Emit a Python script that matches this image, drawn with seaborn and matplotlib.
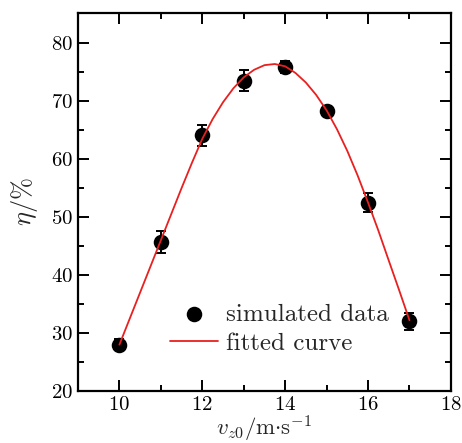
import numpy as np
import pandas as pd
import matplotlib
matplotlib.use("Agg")
import matplotlib.pyplot as plt
import seaborn as sns

# simulated data
vz0 = [10, 11, 12, 13, 14, 15, 16, 17]
eta = [28.0, 45.7, 64.1, 73.5, 75.9, 68.3, 52.5, 32.0]
eta_err = [0.9, 1.9, 1.8, 1.8, 1.0, 0.8, 1.6, 1.5]

# fitted curve
fit_x = [10, 10.25, 10.5, 10.75, 11, 11.25, 11.5, 11.75, 12, 12.25, 12.5, 12.75,
         13, 13.25, 13.5, 13.75, 14, 14.25, 14.5, 14.75, 15, 15.25, 15.5, 15.75,
         16, 16.25, 16.5, 16.75, 17]
fit_y = [28.0, 32.5, 37.0, 41.5, 46.0, 50.5, 55.0, 59.35, 63.5, 66.9, 69.8, 72.2,
         74.1, 75.4, 76.2, 76.4, 76.0, 74.85, 73.2, 71.05, 68.4, 65.15, 61.4, 57.15,
         52.5, 47.65, 42.5, 37.4, 32.2]

xticks = [10, 12, 14, 16, 18]
yticks = [20, 30, 40, 50, 60, 70, 80]

sns.set_theme(style="ticks")
plt.rcParams.update({
    "font.family": "serif",
    "font.serif": ["cmr10"],
    "mathtext.fontset": "cm",
    "axes.formatter.use_mathtext": True,
    "axes.unicode_minus": False,
})

fig = plt.figure(figsize=(4.62, 4.43), dpi=100)
ax = fig.add_axes([0.1688, 0.1174, 0.976 - 0.1688, 0.9707 - 0.1174])

df_pts = pd.DataFrame({"x": vz0, "y": eta})
df_fit = pd.DataFrame({"x": fit_x, "y": fit_y})

ax.errorbar(vz0, eta, yerr=eta_err, fmt="none", ecolor="black",
            elinewidth=1.4, capsize=3.6, capthick=1.4, zorder=2)
sns.scatterplot(data=df_pts, x="x", y="y", ax=ax, color="black", s=125,
                edgecolor="black", linewidth=0, zorder=3, label="simulated data")
sns.lineplot(data=df_fit, x="x", y="y", ax=ax, color="#e8201f", linewidth=1.3,
             zorder=4, label="fitted curve", sort=False)

ax.set_xlim(9, 18)
ax.set_ylim(20, 85.2)
ax.set_xticks(xticks)
ax.set_yticks(yticks)
ax.set_xticks(np.arange(9, 18.5, 1), minor=True)
ax.set_yticks(np.arange(25, 85, 10), minor=True)
ax.tick_params(which="both", direction="in", top=True, right=True,
               width=1.4, colors="black", labelsize=15)
ax.tick_params(which="major", length=8)
ax.tick_params(which="minor", length=4.5)
for s in ax.spines.values():
    s.set_linewidth(1.6)
    s.set_color("black")

ax.set_xlabel(r"$v_{z0}/\mathrm{m{\cdot}s^{-1}}$", fontsize=16.5, labelpad=0)
ax.set_ylabel(r"$\eta/\%$", fontsize=19, labelpad=8)

ax.legend(loc="upper left", bbox_to_anchor=(0.247, 0.232), frameon=False,
          fontsize=18, borderpad=0, borderaxespad=0, handlelength=1.9,
          handletextpad=0.35, labelspacing=0.25, markerscale=1.0)

fig.savefig("out.png", dpi=100)
